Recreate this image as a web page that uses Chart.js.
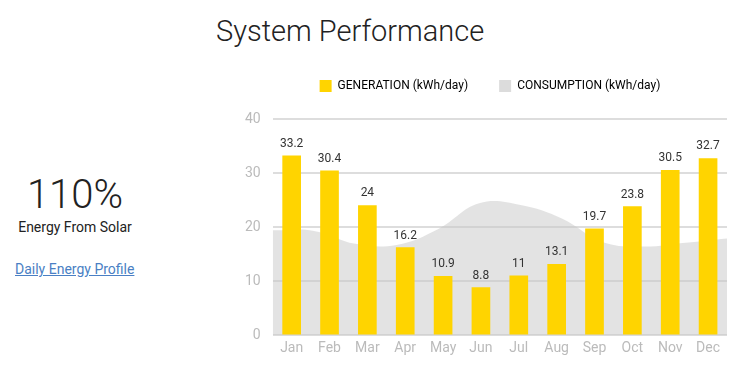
<!DOCTYPE html>
<html>
<head>
<meta charset="utf-8">
<script src="https://cdn.jsdelivr.net/npm/chart.js@4"></script>
<style>
  body { margin: 0; width: 748px; height: 371px; background: #fff; font-family: Roboto, sans-serif; position: relative; overflow: hidden; }
  #title { position: absolute; left: 216px; top: 14px; font-size: 29px; font-weight: 300; color: #222; white-space: nowrap; }
  #side { position: absolute; left: 0; top: 171px; width: 150px; text-align: center; color: #222; }
  #pct { font-size: 40px; font-weight: 300; line-height: 48px; }
  #sub { font-size: 14px; margin-top: 0px; }
  #link { position: absolute; left: 15px; top: 261px; font-size: 14px; color: #4a7fc4; text-decoration: underline; }
  #wrap { position: absolute; left: 225px; top: 49px; width: 510px; height: 318px; }
</style>
</head>
<body>
<div id="title">System Performance</div>
<div id="side">
  <div id="pct">110%</div>
  <div id="sub">Energy From Solar</div>
</div>
<a id="link">Daily Energy Profile</a>
<div id="wrap"><canvas id="perfChart" width="510" height="318"></canvas></div>
<script>
// Chart data
const months = ["Jan", "Feb", "Mar", "Apr", "May", "Jun", "Jul", "Aug", "Sep", "Oct", "Nov", "Dec"];
const generation = [33.2, 30.4, 24, 16.2, 10.9, 8.8, 11, 13.1, 19.7, 23.8, 30.5, 32.7];
const consumption = [19.4, 19.3, 16.9, 16.7, 19.6, 24.4, 24.1, 21.6, 17.2, 16.4, 17.1, 17.9];
const yTicks = [0, 10, 20, 30, 40];

// Small plugin to print the value above each bar
const barValues = {
    id: "barValues",
    afterDatasetsDraw(chart) {
        let ctx = chart.ctx;
        let meta = chart.getDatasetMeta(0);
        ctx.save();
        ctx.font = "12px Roboto";
        ctx.fillStyle = "#333";
        ctx.textAlign = "center";
        ctx.textBaseline = "bottom";
        meta.data.forEach((bar, i) => {
            ctx.fillText(generation[i], bar.x, bar.y - 6);
        });
        ctx.restore();
    }
};

// Extra space under the legend, and nudge it a bit to the right
const legendGap = {
    id: "legendGap",
    beforeInit(chart) {
        let legend = chart.legend;
        let origFit = legend.fit;
        legend.fit = function () {
            origFit.bind(legend)();
            this.height += 17;
        };
        let origDraw = legend.draw;
        legend.draw = function () {
            chart.ctx.save();
            chart.ctx.translate(10, 0);
            origDraw.bind(legend)();
            chart.ctx.restore();
        };
    }
};

let ctx = document.getElementById("perfChart").getContext("2d");
new Chart(ctx, {
    type: "bar",
    data: {
        labels: months,
        datasets: [
            {
                label: "GENERATION (kWh/day)",
                data: generation,
                backgroundColor: "#ffd400",
                barThickness: 18,
                grouped: false,
                order: 1
            },
            {
                type: "line",
                label: "CONSUMPTION (kWh/day)",
                data: consumption,
                xAxisID: "x2",
                backgroundColor: "rgba(200,200,200,0.5)",
                borderWidth: 0,
                pointRadius: 0,
                fill: "origin",
                tension: 0.4,
                order: 2
            }
        ]
    },
    options: {
        responsive: false,
        animation: false,
        layout: { padding: { left: 8, right: 8, top: 0, bottom: 5 } },
        plugins: {
            tooltip: { enabled: false },
            legend: {
                labels: {
                    boxWidth: 12,
                    boxHeight: 12,
                    color: "#999",
                    font: { family: "Roboto", size: 12 },
                    padding: 31,
                    generateLabels(chart) {
                        return chart.data.datasets.map((ds, i) => ({
                            text: ds.label,
                            fillStyle: i === 0 ? "#ffd400" : "#dcdcdc",
                            strokeStyle: "transparent",
                            lineWidth: 0,
                            datasetIndex: i
                        }));
                    }
                }
            }
        },
        scales: {
            x: {
                grid: { display: false, drawTicks: false },
                border: { display: false },
                ticks: { color: "#bbb", font: { family: "Roboto", size: 14 }, padding: 5 }
            },
            x2: {
                type: "category",
                labels: months,
                offset: false,
                display: false
            },
            y: {
                min: 0,
                max: 40,
                afterBuildTicks(axis) {
                    axis.ticks = yTicks.map(v => ({ value: v }));
                },
                grid: { color: "#ddd", lineWidth: 2, drawTicks: false },
                border: { display: false },
                ticks: { color: "#bbb", font: { family: "Roboto", size: 14 }, padding: 12 }
            }
        }
    },
    plugins: [barValues, legendGap]
});
</script>
</body>
</html>
